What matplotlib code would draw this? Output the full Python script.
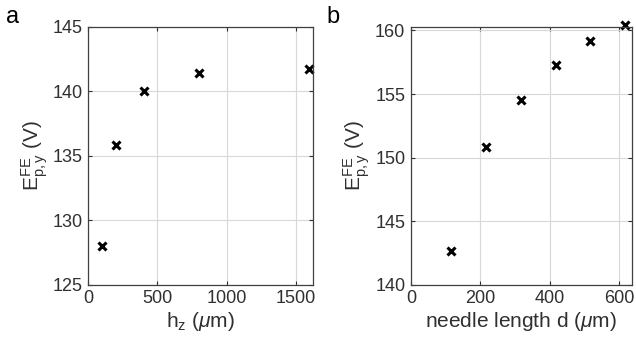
import numpy as np
from matplotlib import pyplot as plt

plt.rcParams['font.family'] = ['Liberation Sans', 'DejaVu Sans']
plt.rcParams['mathtext.fontset'] = 'custom'
plt.rcParams['mathtext.rm'] = 'Liberation Sans'
plt.rcParams['mathtext.it'] = 'Liberation Sans:italic'

# panel a: field vs. height h_z
hz = [100, 200, 400, 800, 1600]
E_hz = [128.05, 135.85, 140.05, 141.4, 141.75]

# panel b: field vs. needle length d
d = [117, 217, 317, 417, 517, 617]
E_d = [142.65, 150.85, 154.55, 157.3, 159.2, 160.4]

txt = '#303030'
ylab = r'$\mathregular{E^{FE}_{p,y}}$ (V)'

fig = plt.figure(figsize=(6.36, 3.5), dpi=100)
axa = fig.add_axes([0.139, 0.186, 0.353, 0.738])
axb = fig.add_axes([0.646, 0.186, 0.347, 0.738])

for ax in (axa, axb):
    ax.grid(True, color='#d8d8d8', linewidth=0.8)
    ax.set_axisbelow(True)
    ax.tick_params(direction='in', length=3, labelsize=13, colors=txt,
                   top=True, right=True, pad=4)
    for s in ax.spines.values():
        s.set_color('#404040')
        s.set_linewidth(0.9)

axa.plot(hz, E_hz, 'x', color='k', ms=6, mew=2.2, clip_on=False)
axa.set_xlim(0, 1625)
axa.set_ylim(125, 145)
axa.set_xticks([0, 500, 1000, 1500])
axa.set_yticks([125, 130, 135, 140, 145])
axa.set_xlabel(r'h$_\mathregular{z}$ ($\mu$m)', fontsize=15, color=txt, labelpad=2)
axa.set_ylabel(ylab, fontsize=15, color=txt, labelpad=2)

axb.plot(d, E_d, 'x', color='k', ms=6, mew=2.2, clip_on=False)
axb.set_xlim(0, 636)
axb.set_ylim(140, 160.3)
axb.set_xticks([0, 200, 400, 600])
axb.set_yticks([140, 145, 150, 155, 160])
axb.set_xlabel(r'needle length d ($\mu$m)', fontsize=15, color=txt, labelpad=2)
axb.set_ylabel(ylab, fontsize=15, color=txt, labelpad=2)

fig.text(0.010, 0.935, 'a', fontsize=17, color='k')
fig.text(0.513, 0.935, 'b', fontsize=17, color='k')

plt.savefig('out.png', dpi=100)
